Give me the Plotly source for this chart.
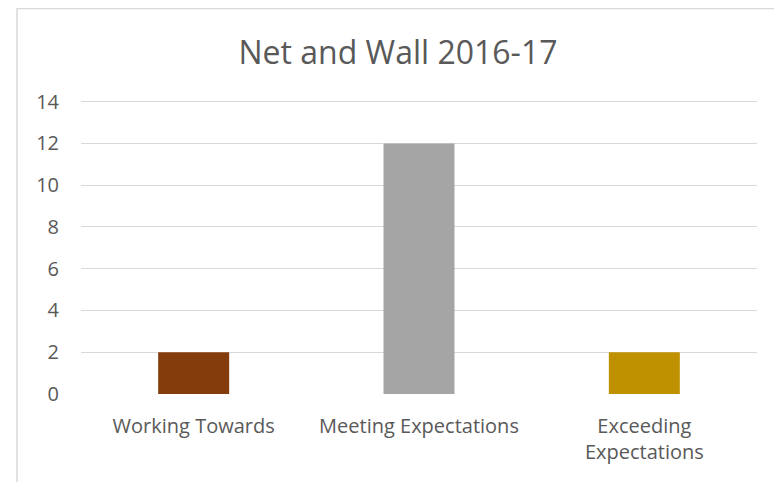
import plotly.graph_objects as go

categories = ["Working Towards", "Meeting Expectations", "Exceeding<br>Expectations"]
values = [2, 12, 2]
colors = ["#843C0C", "#A5A5A5", "#BF9000"]
y_ticks = [0, 2, 4, 6, 8, 10, 12, 14]

W, H = 782, 482
OFF = 8  # page offset seen in the screenshot
y_top = 14.08
unit = (394 - 102) / 14.0
ml = 81 - OFF
mt = 102 - OFF - (y_top - 14) * unit
plot_right, plot_bottom = 757 - OFF, 394 - OFF
mr, mb = W - plot_right, H - plot_bottom
pw, ph = W - ml - mr, H - mt - mb

fig = go.Figure(go.Bar(x=categories, y=values, marker_color=colors, marker_line_width=0))

fig.update_layout(
    width=W, height=H,
    margin=dict(l=ml, r=mr, t=mt, b=mb, autoexpand=False),
    paper_bgcolor="white", plot_bgcolor="white",
    font=dict(family="Open Sans", color="#595959", size=20),
    title=dict(text="Net and Wall 2016-17", x=(398 - OFF) / W, xref="container", xanchor="center",
               y=1 - (53 - OFF) / H, yref="container", yanchor="middle",
               font=dict(size=32, color="#595959")),
    bargap=0.685,
    showlegend=False,
    xaxis=dict(showgrid=False, showline=False, ticks="", ticklabelstandoff=18),
    yaxis=dict(range=[0, y_top], tickvals=y_ticks, showgrid=True, gridcolor="#D9D9D9",
               gridwidth=1, zeroline=False, showline=False, ticks="",
               ticklabelstandoff=21),
    shapes=[dict(type="rect", xref="paper", yref="paper",
                 x0=(17 - OFF - ml) / pw, x1=(W + 20 - ml) / pw,
                 y0=-(H + 20 - (H - mb)) / ph, y1=(H - 1 - mb) / ph,
                 line=dict(color="#D9D9D9", width=1.5), layer="below")],
)

fig.write_html("out.html")
